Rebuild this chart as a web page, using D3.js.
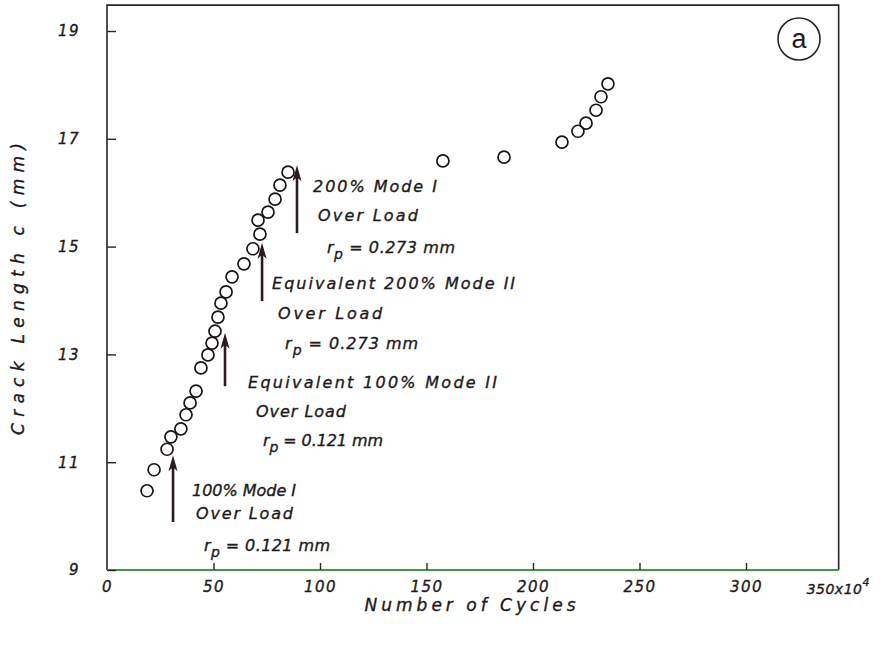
<!DOCTYPE html>
<html>
<head>
<meta charset="utf-8">
<script src="https://cdn.jsdelivr.net/npm/d3@7"></script>
<style>
  body { margin: 0; background: #fff; }
  text { font-family: "DejaVu Sans", sans-serif; fill: #1e1a1a; stroke: #1e1a1a; stroke-width: 0.35px; }
</style>
</head>
<body>
<div id="chart"></div>
<script>
// crack length vs cycles (x10^4)
const cycles = [18.8, 22.1, 28.2, 30.0, 34.7, 37.1, 39.0, 41.8, 44.1, 47.4, 49.3, 50.7,
    52.1, 53.5, 55.9, 58.7, 64.3, 68.5, 71.8, 70.9, 75.6, 78.9, 81.2, 85.0,
    157.7, 186.4, 213.6, 221.1, 224.9, 229.6, 231.9, 235.2];
const crackLength = [10.47, 10.86, 11.24, 11.47, 11.62, 11.88, 12.10, 12.32, 12.75, 12.99, 13.21, 13.43,
    13.69, 13.95, 14.16, 14.44, 14.68, 14.96, 15.23, 15.49, 15.64, 15.88, 16.14, 16.38,
    16.59, 16.66, 16.94, 17.14, 17.29, 17.53, 17.78, 18.02];

const xTicks = [0, 50, 100, 150, 200, 250, 300];
const yTicks = [9, 11, 13, 15, 17, 19];

// overload arrows: cycle position, tail and head crack length
const arrowCycles = [31.0, 55.4, 72.8, 89.2];
const arrowFrom = [9.89, 12.41, 13.99, 15.25];
const arrowTo = [11.13, 13.40, 15.07, 16.51];

// note text, anchored at data coordinates
const noteLines = [
    ['100% Mode I', 'Over Load', '0.121 mm'],
    ['Equivalent 100% Mode II', 'Over Load', '0.121 mm'],
    ['Equivalent 200% Mode II', 'Over Load', '0.273 mm'],
    ['200% Mode I', 'Over Load', '0.273 mm']
];
const noteX = [39.9, 66.2, 77.5, 96.7];
const noteY = [10.48, 12.49, 14.32, 16.12];

const width = 880;
const height = 648;

const svg = d3.select('#chart')
    .append('svg')
    .attr('width', width)
    .attr('height', height);

const xScale = d3.scaleLinear().domain([0, 350]).range([107, 852.5]);
const yScale = d3.scaleLinear().domain([9, 19]).range([570, 31]);
const xEnd = 343.5;   // frame ends a bit short of 350
const yEnd = 19.48;

// frame
const frameL = xScale(0), frameR = xScale(xEnd), frameT = yScale(yEnd), frameB = yScale(9);
svg.append('path')
    .attr('d', `M${frameL},${frameB} L${frameL},${frameT} L${frameR},${frameT} L${frameR},${frameB}`)
    .attr('fill', 'none')
    .attr('stroke', '#2a2424')
    .attr('stroke-width', 1.6);
svg.append('line')
    .attr('x1', frameL).attr('x2', frameR)
    .attr('y1', frameB).attr('y2', frameB)
    .attr('stroke', '#3f9a45')
    .attr('stroke-width', 1.8);

// axes
const xAxis = svg.append('g')
    .attr('transform', `translate(0, ${frameB})`)
    .call(d3.axisBottom(xScale).tickValues(xTicks).tickSize(-7).tickPadding(11));
const yAxis = svg.append('g')
    .attr('transform', `translate(${frameL}, 0)`)
    .call(d3.axisLeft(yScale).tickValues(yTicks).tickSize(-9).tickPadding(27));

[xAxis, yAxis].forEach(g => {
    g.select('.domain').remove();
    g.selectAll('.tick line').attr('stroke', '#2a2424').attr('stroke-width', 1.4);
    g.selectAll('.tick text')
        .style('font-family', '"DejaVu Sans", sans-serif')
        .style('font-style', 'italic')
        .style('font-size', '15px')
        .style('letter-spacing', '1.5px')
        .attr('fill', '#1e1a1a');
});
xAxis.select('.tick line').remove();

// 350x10^4 label at the right end
const endLabel = svg.append('text')
    .attr('x', frameR - 32)
    .attr('y', frameB + 24)
    .style('font-style', 'italic')
    .style('font-size', '14px')
    .style('letter-spacing', '0.5px');
endLabel.append('tspan').text('350x10');
endLabel.append('tspan').attr('dy', -8).style('font-size', '11px').text('4');

// axis titles
svg.append('text')
    .attr('x', 470)
    .attr('y', 611)
    .attr('text-anchor', 'middle')
    .attr('textLength', 211)
    .attr('lengthAdjust', 'spacing')
    .style('font-style', 'italic')
    .style('font-size', '17px')
    .text('Number of Cycles');

svg.append('text')
    .attr('transform', 'rotate(-90)')
    .attr('x', -289)
    .attr('y', 24)
    .attr('text-anchor', 'middle')
    .attr('textLength', 292)
    .attr('lengthAdjust', 'spacing')
    .style('font-style', 'italic')
    .style('font-size', '17px')
    .text('Crack Length c (mm)');

// data points
svg.append('g')
    .selectAll('circle')
    .data(cycles.map((c, i) => ({ x: c, y: crackLength[i] })))
    .join('circle')
    .attr('cx', d => xScale(d.x))
    .attr('cy', d => yScale(d.y))
    .attr('r', 6)
    .attr('fill', 'none')
    .attr('stroke', '#1a1414')
    .attr('stroke-width', 1.7);

// arrows
const arrows = svg.append('g');
arrowCycles.forEach((c, i) => {
    const ax = xScale(c);
    const y0 = yScale(arrowFrom[i]);
    const y1 = yScale(arrowTo[i]);
    arrows.append('line')
        .attr('x1', ax).attr('x2', ax)
        .attr('y1', y0).attr('y2', y1 + 10)
        .attr('stroke', '#2a1c1c')
        .attr('stroke-width', 2.6);
    arrows.append('path')
        .attr('d', `M${ax},${y1} L${ax - 4.5},${y1 + 16} L${ax},${y1 + 12} L${ax + 4.5},${y1 + 16} Z`)
        .attr('fill', '#2a1c1c');
});

// notes
const lineDx = [[0, 4, 12], [0, 8, 15], [0, 6, 13], [0, 5, 14]];
const lineDy = [[0, 23, 55], [0, 29, 58], [0, 30, 60], [0, 29, 61]];
const lineLen = [[104, 97, 126], [249, 90, 120], [243, 104, 133], [124, 100, 128]];
noteLines.forEach((lines, i) => {
    const nx = xScale(noteX[i]);
    const ny = yScale(noteY[i]) + 6;
    lines.forEach((s, j) => {
        const t = svg.append('text')
            .attr('x', nx + lineDx[i][j])
            .attr('y', ny + lineDy[i][j])
            .attr('textLength', lineLen[i][j])
            .attr('lengthAdjust', 'spacing')
            .style('font-style', 'italic')
            .style('font-size', '16px');
        if (j === 2) {
            t.append('tspan').text('r');
            t.append('tspan').attr('dy', 6).style('font-size', '14px').text('p');
            t.append('tspan').attr('dy', -6).text(' = ' + s);
        } else {
            t.text(s);
        }
    });
});

// panel label
svg.append('circle')
    .attr('cx', 799)
    .attr('cy', 39)
    .attr('r', 21)
    .attr('fill', 'none')
    .attr('stroke', '#2a2424')
    .attr('stroke-width', 1.6);
svg.append('text')
    .attr('x', 799)
    .attr('y', 48)
    .attr('text-anchor', 'middle')
    .style('font-family', '"Liberation Sans", Arial, sans-serif')
    .style('font-size', '27px')
    .style('stroke-width', '0')
    .text('a');
</script>
</body>
</html>
